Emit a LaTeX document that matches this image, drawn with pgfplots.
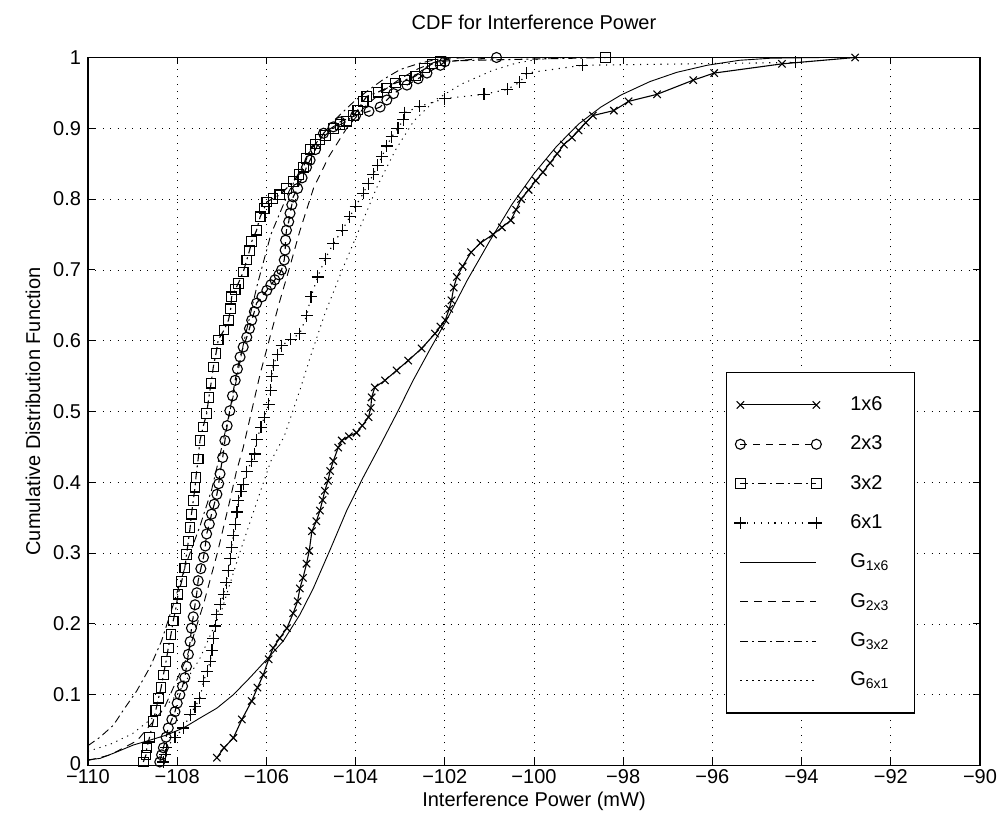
\documentclass[border=0pt]{standalone}
\usepackage{fontspec}
\setmainfont{Liberation Sans}
\usepackage{pgfplots}
\pgfplotsset{compat=1.18}
\begin{document}
\begin{tikzpicture}
\useasboundingbox (-44pt,-23.75pt) rectangle (455pt,382.75pt);
\begin{axis}[
  scale only axis, width=446pt, height=354pt,
  xmin=-110, xmax=-90, ymin=0, ymax=1,
  font=\fontsize{10}{12}\selectfont,
  xtick={-110,-108,...,-90},
  xticklabels={−110,−108,−106,−104,−102,−100,−98,−96,−94,−92,−90},
  ytick={0,0.1,...,1},
  yticklabels={\raisebox{2.4pt}{0},0.1,0.2,0.3,0.4,0.5,0.6,0.7,0.8,0.9,1},
  tick align=inside, xtick pos=both, ytick pos=both,
  major tick length=3.5pt,
  tick style={black, line width=0.5pt},
  axis line style={line width=0.6pt},
  grid=major,
  major grid style={black, line width=0.35pt, dash pattern=on 0.5pt off 3.2pt},
  xticklabel style={yshift=1.5pt},
  title={CDF for Interference Power},
  title style={at={(axis description cs:0.5,1)}, anchor=center, yshift=11.75pt},
  xlabel={Interference Power (mW)},
  xlabel style={at={(axis description cs:0.5,0)}, anchor=center, yshift=-17.8pt},
  ylabel={Cumulative Distribution Function},
  ylabel style={at={(axis description cs:-0.0617,0.5)}, anchor=center},
  every axis plot/.append style={line width=0.55pt, black},
  legend image code/.code={
    \draw[mark repeat=2,mark phase=1,#1] plot coordinates {(0pt,0pt) (19pt,0pt) (38pt,0pt)};
    \path[draw=none] (0pt,-4pt) rectangle (53pt,4pt);
  },
  legend cell align=left,
  legend style={at={(rel axis cs:0.715,0.556)}, anchor=north west, draw=black, line width=0.6pt,
    inner xsep=4pt, inner ysep=10pt, row sep=7.2pt,
    font=\fontsize{10}{12}\selectfont,
    text width=26pt},
]
% 1x6
\addplot[solid, mark=x, mark size=2.6pt, mark options={solid}] coordinates {
(-107.11,0.011) (-106.95,0.025) (-106.74,0.039) (-106.55,0.065) (-106.33,0.091) (-106.2,0.11)
(-106.07,0.128) (-105.95,0.15) (-105.85,0.166) (-105.7,0.18) (-105.54,0.194) (-105.4,0.215)
(-105.3,0.232) (-105.25,0.25) (-105.18,0.265) (-105.1,0.285) (-105.04,0.303) (-104.98,0.331)
(-104.88,0.345) (-104.8,0.36) (-104.74,0.375) (-104.69,0.388) (-104.62,0.402) (-104.57,0.416)
(-104.5,0.43) (-104.39,0.449) (-104.31,0.459) (-104.15,0.465) (-103.98,0.47) (-103.85,0.48)
(-103.71,0.492) (-103.66,0.505) (-103.64,0.52) (-103.57,0.534) (-103.34,0.544) (-103.08,0.558)
(-102.82,0.572) (-102.52,0.589) (-102.22,0.61) (-102.1,0.62) (-101.99,0.629) (-101.9,0.645)
(-101.85,0.657) (-101.8,0.675) (-101.73,0.69) (-101.6,0.705) (-101.41,0.725) (-101.2,0.738)
(-100.92,0.75) (-100.72,0.76) (-100.52,0.77) (-100.4,0.785) (-100.29,0.8) (-100.12,0.813)
(-99.96,0.826) (-99.8,0.838) (-99.64,0.851) (-99.48,0.864) (-99.33,0.877) (-99.15,0.887)
(-99.0,0.897) (-98.84,0.908) (-98.68,0.918) (-98.21,0.925) (-97.88,0.938) (-97.24,0.948)
(-96.43,0.968) (-95.96,0.978) (-94.44,0.991) (-92.8,1.0)
};
\addlegendentry{1x6}
% 2x3
\addplot[dash pattern=on 3.5pt off 3pt, mark=o, mark size=2.5pt, mark options={solid}] coordinates {
(-108.39,0.005) (-108.35,0.015) (-108.31,0.025) (-108.25,0.04) (-108.2,0.053) (-108.12,0.065)
(-108.05,0.076) (-108.0,0.088) (-107.94,0.1) (-107.88,0.112) (-107.83,0.124) (-107.79,0.14)
(-107.75,0.157) (-107.71,0.175) (-107.68,0.194) (-107.64,0.21) (-107.6,0.227) (-107.56,0.244)
(-107.53,0.261) (-107.47,0.278) (-107.41,0.294) (-107.37,0.31) (-107.34,0.327) (-107.28,0.341)
(-107.23,0.355) (-107.17,0.369) (-107.11,0.383) (-107.07,0.398) (-107.04,0.412) (-106.98,0.435)
(-106.93,0.459) (-106.88,0.48) (-106.82,0.501) (-106.76,0.522) (-106.7,0.544) (-106.65,0.56)
(-106.59,0.577) (-106.52,0.591) (-106.44,0.605) (-106.38,0.617) (-106.33,0.629) (-106.27,0.641)
(-106.22,0.653) (-106.1,0.662) (-105.99,0.671) (-105.9,0.679) (-105.81,0.686) (-105.72,0.693)
(-105.66,0.7) (-105.6,0.714) (-105.58,0.728) (-105.57,0.742) (-105.55,0.756) (-105.5,0.768)
(-105.47,0.78) (-105.43,0.792) (-105.4,0.803) (-105.3,0.815) (-105.2,0.83) (-105.1,0.845)
(-105.02,0.855) (-104.9,0.87) (-104.72,0.893) (-104.5,0.902) (-104.35,0.909) (-104.0,0.918)
(-103.7,0.924) (-103.45,0.93) (-103.3,0.94) (-103.15,0.949) (-102.85,0.961) (-102.6,0.97)
(-102.4,0.978) (-102.1,0.989) (-102.0,0.994) (-100.84,1.0)
};
\addlegendentry{2x3}
% 3x2
\addplot[dash pattern=on 4pt off 2pt on 1pt off 2pt, mark=square, mark size=2.4pt, mark options={solid}] coordinates {
(-108.76,0.005) (-108.7,0.015) (-108.68,0.025) (-108.62,0.04) (-108.54,0.062) (-108.48,0.078)
(-108.42,0.095) (-108.36,0.11) (-108.31,0.128) (-108.25,0.147) (-108.2,0.166) (-108.14,0.185)
(-108.09,0.204) (-108.03,0.222) (-107.98,0.242) (-107.9,0.26) (-107.83,0.279) (-107.79,0.298)
(-107.75,0.317) (-107.71,0.336) (-107.68,0.355) (-107.64,0.374) (-107.6,0.393) (-107.58,0.407)
(-107.53,0.433) (-107.49,0.459) (-107.42,0.478) (-107.34,0.497) (-107.29,0.52) (-107.24,0.54)
(-107.19,0.563) (-107.13,0.582) (-107.08,0.601) (-106.95,0.615) (-106.85,0.629) (-106.8,0.645)
(-106.78,0.662) (-106.7,0.672) (-106.63,0.681) (-106.52,0.697) (-106.44,0.714) (-106.38,0.727)
(-106.33,0.74) (-106.22,0.756) (-106.14,0.775) (-106.05,0.787) (-105.99,0.796) (-105.85,0.801)
(-105.7,0.806) (-105.55,0.815) (-105.4,0.825) (-105.27,0.835) (-105.17,0.845) (-105.1,0.857)
(-105.02,0.87) (-104.9,0.878) (-104.8,0.884) (-104.68,0.89) (-104.5,0.9) (-104.35,0.905)
(-104.2,0.91) (-104.05,0.918) (-103.95,0.926) (-103.83,0.938) (-103.75,0.945) (-103.5,0.951)
(-103.3,0.957) (-103.1,0.964) (-102.9,0.968) (-102.65,0.974) (-102.45,0.985) (-102.28,0.991)
(-102.1,0.995) (-98.4,1.0)
};
\addlegendentry{3x2}
% 6x1
\addplot[dash pattern=on 0.6pt off 2.8pt, mark=+, mark size=3pt, mark options={solid}] coordinates {
(-108.31,0.005) (-108.27,0.015) (-108.24,0.025) (-108.05,0.04) (-107.86,0.053) (-107.71,0.072)
(-107.6,0.083) (-107.49,0.095) (-107.41,0.119) (-107.33,0.133) (-107.26,0.147) (-107.22,0.163)
(-107.19,0.18) (-107.15,0.197) (-107.11,0.213) (-107.03,0.228) (-106.96,0.242) (-106.9,0.258)
(-106.85,0.275) (-106.81,0.292) (-106.78,0.308) (-106.74,0.325) (-106.7,0.341) (-106.66,0.358)
(-106.63,0.374) (-106.57,0.387) (-106.52,0.397) (-106.44,0.415) (-106.33,0.43) (-106.26,0.44)
(-106.22,0.46) (-106.12,0.478) (-106.05,0.492) (-105.95,0.51) (-105.9,0.53) (-105.88,0.55)
(-105.85,0.565) (-105.75,0.58) (-105.66,0.593) (-105.45,0.602) (-105.25,0.61) (-105.1,0.635)
(-105.0,0.662) (-104.85,0.69) (-104.68,0.716) (-104.5,0.737) (-104.3,0.756) (-104.13,0.775)
(-104.0,0.79) (-103.83,0.808) (-103.72,0.822) (-103.6,0.835) (-103.5,0.848) (-103.41,0.86)
(-103.3,0.875) (-103.19,0.888) (-103.05,0.9) (-102.93,0.912) (-102.9,0.922) (-102.56,0.931)
(-102.0,0.942) (-101.12,0.948) (-100.6,0.955) (-100.32,0.965) (-100.16,0.978) (-98.92,0.989)
(-94.13,0.993)
};
\addlegendentry{6x1}
% G1x6
\addplot[solid, no marks, line width=0.45pt] coordinates {
(-110,0.008) (-109.73,0.01) (-109.4,0.018) (-108.98,0.029) (-108.6,0.036) (-108.24,0.043)
(-107.86,0.053) (-107.49,0.067) (-107.11,0.081) (-106.74,0.1) (-106.37,0.124) (-105.99,0.15)
(-105.62,0.176) (-105.25,0.213) (-104.95,0.25) (-104.57,0.305) (-104.2,0.36) (-103.83,0.407)
(-103.45,0.452) (-103.08,0.497) (-102.71,0.544) (-102.33,0.588) (-101.96,0.629) (-101.5,0.685)
(-101,0.74) (-100.5,0.792) (-100,0.836) (-99.5,0.874) (-99,0.906) (-98.5,0.93) (-98.05,0.947)
(-97.4,0.966) (-96.8,0.979) (-96.12,0.989) (-95.4,0.996) (-94.69,0.999) (-93.5,1.0)
};
\addlegendentry{G\textsubscript{1x6}}
% G2x3
\addplot[dash pattern=on 4pt off 3pt, no marks, line width=0.45pt] coordinates {
(-110,0.007) (-109.5,0.015) (-108.9,0.035) (-108.3,0.08) (-107.8,0.15) (-107.4,0.23)
(-107.1,0.3) (-106.82,0.374) (-106.67,0.416) (-106.52,0.449) (-106.37,0.49) (-106.14,0.553)
(-105.92,0.605) (-105.7,0.656) (-105.45,0.71) (-105.25,0.755) (-104.94,0.816) (-104.6,0.86)
(-104.2,0.9) (-103.8,0.93) (-103.4,0.952) (-103.0,0.97) (-102.6,0.984) (-102.2,0.994)
(-101.8,0.999) (-101.3,1.0)
};
\addlegendentry{G\textsubscript{2x3}}
% G3x2
\addplot[dash pattern=on 4pt off 2pt on 1pt off 2pt, no marks, line width=0.45pt] coordinates {
(-110,0.028) (-109.73,0.04) (-109.43,0.057) (-109.21,0.078) (-108.91,0.105) (-108.6,0.14)
(-108.35,0.176) (-108.1,0.225) (-107.8,0.285) (-107.49,0.338) (-107.23,0.389) (-107.0,0.45)
(-106.75,0.52) (-106.5,0.6) (-106.2,0.68) (-105.9,0.75) (-105.5,0.81) (-105.0,0.87)
(-104.5,0.91) (-104.05,0.937) (-103.75,0.952) (-103.38,0.969) (-103.0,0.983) (-102.56,0.992)
(-102.2,0.997) (-101.8,1.0)
};
\addlegendentry{G\textsubscript{3x2}}
% G6x1
\addplot[dash pattern=on 0.6pt off 2.4pt, no marks, line width=0.45pt] coordinates {
(-110,0.02) (-109.5,0.03) (-109,0.045) (-108.5,0.07) (-108,0.1) (-107.5,0.15) (-107,0.22)
(-106.6,0.3) (-106.2,0.375) (-105.9,0.43) (-105.6,0.465) (-105.25,0.53) (-105.0,0.58)
(-104.69,0.638) (-104.3,0.7) (-103.9,0.76) (-103.5,0.82) (-103.1,0.87) (-102.7,0.91)
(-102.21,0.94) (-101.64,0.962) (-100.92,0.982) (-100.4,0.992) (-99.96,0.997) (-99.3,1.0)
};
\addlegendentry{G\textsubscript{6x1}}
\end{axis}
\end{tikzpicture}
\end{document}
